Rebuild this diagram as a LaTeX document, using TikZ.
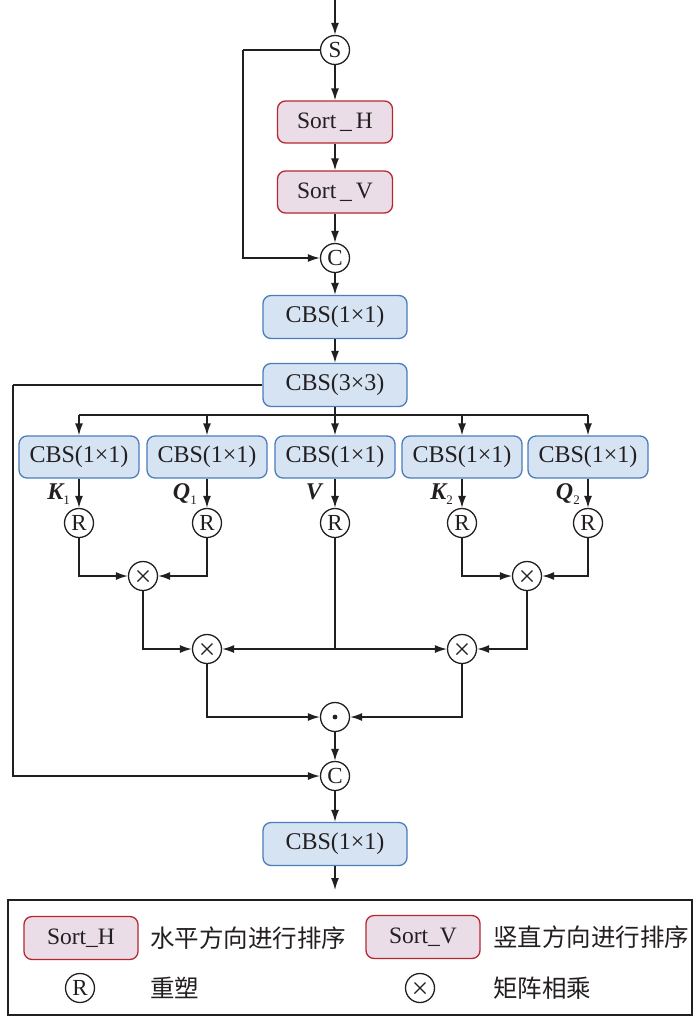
\documentclass[tikz,border=0pt]{standalone}
\usepackage{fontspec}
\setmainfont{Liberation Serif}
\newfontfamily\cjk{Noto Sans CJK SC}
\usetikzlibrary{arrows.meta}
\definecolor{ink}{HTML}{231F20}
\definecolor{pinkfill}{HTML}{EBDDE8}
\definecolor{pinkline}{HTML}{B5282E}
\definecolor{bluefill}{HTML}{D6E3F3}
\definecolor{blueline}{HTML}{4A7DBA}
\tikzset{
  every node/.style={text=ink},
  sortbox/.style={draw=pinkline, fill=pinkfill, rounded corners=8pt, line width=1.3pt,
    minimum width=115pt, minimum height=42pt, inner sep=0pt, font=\fontsize{23.5}{26}\selectfont},
  cbsbox/.style={draw=blueline, fill=bluefill, rounded corners=8pt, line width=1.3pt,
    minimum width=120pt, minimum height=42pt, inner sep=0pt, font=\fontsize{24}{26}\selectfont},
  opnode/.style={circle, draw=ink, line width=1.3pt, minimum size=29pt, inner sep=0pt,
    font=\fontsize{23}{24}\selectfont},
  crossnode/.style={opnode, path picture={
    \draw[ink, line width=1.2pt] ([shift={(-5.5pt,-5.5pt)}]path picture bounding box.center) -- ([shift={(5.5pt,5.5pt)}]path picture bounding box.center);
    \draw[ink, line width=1.2pt] ([shift={(-5.5pt,5.5pt)}]path picture bounding box.center) -- ([shift={(5.5pt,-5.5pt)}]path picture bounding box.center);}},
  lbl/.style={anchor=east, inner sep=0pt, font=\fontsize{24}{26}\selectfont},
  cjktext/.style={anchor=west, inner sep=0pt, font=\cjk\fontsize{24.5}{26}\selectfont},
  arr/.style={draw=ink, line width=1.4pt, -{Latex[length=12pt,width=8pt]}},
  ln/.style={draw=ink, line width=1.4pt},
}
\newcommand{\lab}[2]{{\bfseries\itshape #1}\raisebox{-5pt}{\fontsize{13}{13}\selectfont #2}}
\begin{document}
\begin{tikzpicture}[x=1pt,y=-1pt]
\useasboundingbox (0,0) rectangle (700,1020);
% top part
\coordinate (top) at (335,0);
\node[opnode] (S) at (335,50) {S};
\node[sortbox] (sh) at (335,122) {Sort\,\_\,H};
\node[sortbox] (sv) at (335,192) {Sort\,\_\,V};
\node[opnode] (c1) at (335,258) {C};
\coordinate (lp) at (243,50);
\node[cbsbox, minimum width=144pt, minimum height=43pt] (cb1) at (335,317) {CBS(1×1)};
\node[cbsbox, minimum width=144pt, minimum height=43pt] (cb3) at (335,385) {CBS(3×3)};
\coordinate (lp2) at (13,385);
\coordinate (br) at (335,415);
% branches
\node[cbsbox] (b1) at (79,457) {CBS(1×1)};
\node[cbsbox] (b2) at (207,457) {CBS(1×1)};
\node[cbsbox] (b3) at (335,457) {CBS(1×1)};
\node[cbsbox] (b4) at (462,457) {CBS(1×1)};
\node[cbsbox] (b5) at (588,457) {CBS(1×1)};
\node[lbl] (lk1) at (70,494) {\lab{K}{1}};
\node[lbl] (lq1) at (197,494) {\lab{Q}{1}};
\node[lbl] (lv) at (322,492) {{\bfseries\itshape V}};
\node[lbl] (lk2) at (453,494) {\lab{K}{2}};
\node[lbl] (lq2) at (580,494) {\lab{Q}{2}};
\node[opnode] (r1) at (79,523) {R};
\node[opnode] (r2) at (207,523) {R};
\node[opnode] (r3) at (335,523) {R};
\node[opnode] (r4) at (462,523) {R};
\node[opnode] (r5) at (588,523) {R};
\node[crossnode] (m1) at (143,576) {};
\node[crossnode] (m2) at (527,576) {};
\node[crossnode] (mL) at (207,649) {};
\node[crossnode] (mR) at (462,649) {};
\coordinate (vj) at (335,649);
\node[opnode] (dt) at (335,717) {};
\fill[ink] (dt) circle (2.4pt);
\node[opnode] (c2) at (335,776) {C};
\node[cbsbox, minimum width=144pt, minimum height=43pt] (cbo) at (335,844) {CBS(1×1)};
\coordinate (out) at (335,890);
% connectors
\draw[arr] (top) -- (S);
\draw[arr] (S) -- (sh);
\draw[arr] (sh) -- (sv);
\draw[arr] (sv) -- (c1);
\draw[ln] (S) -- (lp);
\draw[arr] (lp) |- (c1);
\draw[arr] (c1) -- (cb1);
\draw[arr] (cb1) -- (cb3);
\draw[ln] (cb3) -- (lp2);
\draw[arr] (lp2) |- (c2);
\draw[arr] (cb3) -- (b3);
\draw[ln] (b1|-br) -- (b5|-br);
\foreach \i in {1,2,4,5} { \draw[arr] (b\i|-br) -- (b\i); }
\foreach \i in {1,...,5} { \draw[arr] (b\i) -- (r\i); }
\draw[arr] (r1) |- (m1);
\draw[arr] (r2) |- (m1);
\draw[arr] (r4) |- (m2);
\draw[arr] (r5) |- (m2);
\draw[ln] (r3) -- (vj);
\draw[arr] (vj) -- (mL);
\draw[arr] (vj) -- (mR);
\draw[arr] (m1) |- (mL);
\draw[arr] (m2) |- (mR);
\draw[arr] (mL) |- (dt);
\draw[arr] (mR) |- (dt);
\draw[arr] (dt) -- (c2);
\draw[arr] (c2) -- (cbo);
\draw[arr] (cbo) -- (out);
% legend
\node[draw=ink, line width=1.3pt, minimum width=684pt, minimum height=115pt, inner sep=0pt] (leg) at (350,957.5) {};
\node[sortbox, minimum width=114pt, minimum height=43pt] (lsh) at (81,938) {Sort\_H};
\node[cjktext] (lsht) at (150,938) {水平方向进行排序};
\node[sortbox, minimum width=114pt, minimum height=43pt] (lsv) at (423,937) {Sort\_V};
\node[cjktext] (lsvt) at (493,937) {竖直方向进行排序};
\node[opnode] (lr) at (80,988) {R};
\node[cjktext] (lrt) at (150,988) {重塑};
\node[crossnode] (lx) at (420,988) {};
\node[cjktext] (lxt) at (493,988) {矩阵相乘};
\end{tikzpicture}
\end{document}
